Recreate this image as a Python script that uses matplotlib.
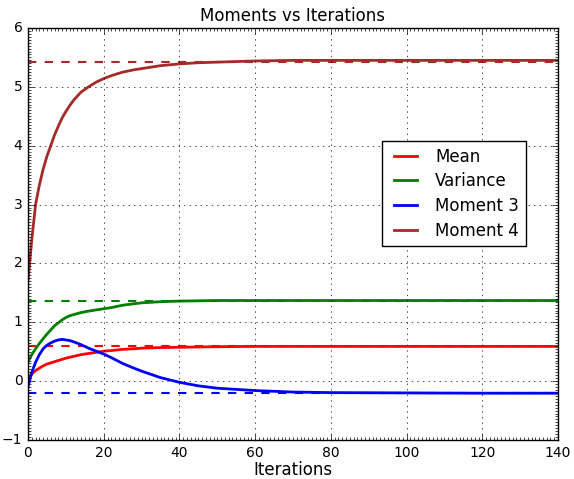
import matplotlib
matplotlib.use('Agg')
import matplotlib.pyplot as plt
from matplotlib.ticker import MultipleLocator

plt.style.use('classic')

# values
iters = [0, 1, 2, 3, 4, 5, 6, 7, 8, 9, 10, 11, 12, 14, 16, 18, 20, 22, 25,
         28, 30, 35, 40, 45, 50, 55, 60, 70, 80, 100, 120, 140]
mean = [0.03, 0.12, 0.18, 0.22, 0.26, 0.29, 0.31, 0.33, 0.35, 0.37, 0.39,
        0.405, 0.42, 0.45, 0.47, 0.49, 0.51, 0.52, 0.54, 0.55, 0.56, 0.57,
        0.575, 0.58, 0.585, 0.588, 0.59, 0.59, 0.59, 0.59, 0.59, 0.59]
variance = [0.33, 0.45, 0.55, 0.64, 0.72, 0.8, 0.87, 0.94, 0.99, 1.04, 1.08,
            1.11, 1.13, 1.165, 1.19, 1.21, 1.23, 1.25, 1.29, 1.315, 1.33,
            1.35, 1.36, 1.365, 1.37, 1.37, 1.37, 1.37, 1.37, 1.37, 1.37,
            1.37]
moment3 = [-0.1, 0.15, 0.32, 0.45, 0.55, 0.61, 0.65, 0.68, 0.70, 0.71, 0.70,
           0.69, 0.67, 0.62, 0.56, 0.51, 0.46, 0.40, 0.30, 0.22, 0.17, 0.06,
           -0.02, -0.08, -0.12, -0.14, -0.16, -0.185, -0.195, -0.2, -0.205,
           -0.205]
moment4 = [1.7, 2.4, 3.0, 3.33, 3.6, 3.82, 4.0, 4.18, 4.33, 4.47, 4.58, 4.68,
           4.77, 4.91, 5.0, 5.08, 5.14, 5.19, 5.25, 5.29, 5.31, 5.36, 5.39,
           5.41, 5.42, 5.43, 5.44, 5.45, 5.45, 5.45, 5.45, 5.45]

# theoretical values (dashed)
targets = [0.595, 1.37, -0.2, 5.42]
labels = ['Mean', 'Variance', 'Moment 3', 'Moment 4']
colors = ['r', 'g', 'b', 'brown']

fig = plt.figure(figsize=(5.74, 4.79), dpi=100, facecolor='white')
ax = fig.add_axes([28/574, 39/479, 530/574, 412/479])

for series, target, lab, c in zip([mean, variance, moment3, moment4],
                                  targets, labels, colors):
    ax.plot(iters, series, color=c, lw=2, label=lab)
    ax.axhline(target, color=c, ls='--', lw=1.5)

ax.set_xlim(0, 140)
ax.set_ylim(-1, 6)
ax.xaxis.set_minor_locator(MultipleLocator(1))
ax.yaxis.set_minor_locator(MultipleLocator(0.05))
ax.tick_params(which='minor', length=2, width=0.5)
ax.tick_params(which='major', labelsize=10)
ax.grid(True)
ax.set_title('Moments vs Iterations', fontsize=12)
ax.set_xlabel('Iterations', fontsize=12, labelpad=1)
ax.legend(loc='upper left', bbox_to_anchor=(0.668, 0.726), fontsize=12,
          borderaxespad=0, labelspacing=0.4)

fig.savefig('out.png', dpi=100, facecolor='white')
